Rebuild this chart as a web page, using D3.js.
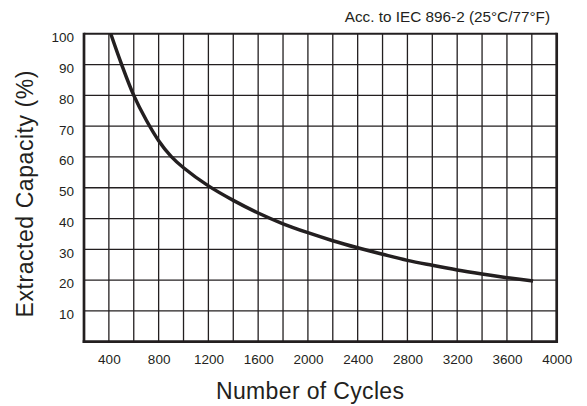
<!DOCTYPE html>
<html>
<head>
<meta charset="utf-8">
<script src="https://cdn.jsdelivr.net/npm/d3@7"></script>
<style>
  html, body { margin: 0; padding: 0; background: #fff; }
  svg { display: block; }
  text { font-family: "Liberation Sans", Arial, Helvetica, sans-serif; fill: #231f20; }
</style>
</head>
<body>
<svg id="chart" width="587" height="406"></svg>
<script>
// Cycle life: extracted capacity vs. number of cycles
const cycles   = [415, 500, 600, 700, 800, 900, 1000, 1200, 1400, 1600, 1800, 2000, 2200, 2400, 2600, 2800, 3000, 3200, 3400, 3600, 3810];
const capacity = [100, 90.3, 80, 72, 65.3, 60.2, 56.5, 50.6, 45.9, 41.8, 38.3, 35.4, 32.8, 30.5, 28.4, 26.4, 24.8, 23.3, 22, 20.8, 19.7];

const xTickLabels = [400, 800, 1200, 1600, 2000, 2400, 2800, 3200, 3600, 4000];
const yTickLabels = [10, 20, 30, 40, 50, 60, 70, 80, 90, 100];

const xDomain = [200, 4000];
const yDomain = [0, 100];
const xGridStep = 200;
const yGridStep = 10;

const ink = "#231f20";
const svg = d3.select("#chart");

const plot = { left: 84, right: 556.7, top: 33.8, bottom: 341.7 };
const x = d3.scaleLinear().domain(xDomain).range([plot.left, plot.right]);
const y = d3.scaleLinear().domain(yDomain).range([plot.bottom, plot.top]);

// Grid lines
const xGrid = d3.range(xDomain[0] + xGridStep, xDomain[1], xGridStep);
const yGrid = d3.range(yDomain[0] + yGridStep, yDomain[1], yGridStep);

const grid = svg.append("g").attr("stroke", ink).attr("stroke-width", 1.3);
grid.selectAll("line.v").data(xGrid).join("line")
  .attr("class", "v")
  .attr("x1", d => x(d)).attr("x2", d => x(d))
  .attr("y1", plot.top).attr("y2", plot.bottom);
grid.selectAll("line.h").data(yGrid).join("line")
  .attr("class", "h")
  .attr("y1", d => y(d)).attr("y2", d => y(d))
  .attr("x1", plot.left).attr("x2", plot.right);

// Frame
svg.append("line").attr("x1", plot.left).attr("x2", plot.right).attr("y1", plot.top).attr("y2", plot.top)
  .attr("stroke", ink).attr("stroke-width", 2);
svg.append("line").attr("x1", plot.right).attr("x2", plot.right).attr("y1", plot.top - 1).attr("y2", plot.bottom + 1.3)
  .attr("stroke", ink).attr("stroke-width", 2.7);
svg.append("line").attr("x1", plot.left).attr("x2", plot.left).attr("y1", plot.top - 1).attr("y2", plot.bottom + 1.3)
  .attr("stroke", ink).attr("stroke-width", 2.7);
svg.append("line").attr("x1", plot.left - 1.3).attr("x2", plot.right + 1.3).attr("y1", plot.bottom).attr("y2", plot.bottom)
  .attr("stroke", ink).attr("stroke-width", 2.7);

// Axis labels (no axis line or tick marks)
const xAxis = svg.append("g")
  .attr("transform", `translate(0,${plot.bottom})`)
  .call(d3.axisBottom(x).tickValues(xTickLabels).tickSize(0).tickPadding(12.6).tickFormat(d3.format("d")));
xAxis.select(".domain").remove();
xAxis.selectAll("text")
  .style("font-family", "'Liberation Sans', Arial, sans-serif")
  .attr("font-size", 13.5).attr("fill", ink);

const yAxis = svg.append("g")
  .attr("transform", `translate(${plot.left},0)`)
  .call(d3.axisLeft(y).tickValues(yTickLabels).tickSize(0).tickPadding(10).tickFormat(d3.format("d")));
yAxis.select(".domain").remove();
yAxis.selectAll("text")
  .style("font-family", "'Liberation Sans', Arial, sans-serif")
  .attr("font-size", 13.5).attr("fill", ink)
  .attr("dy", "0.58em");

// Curve
const line = d3.line()
  .x((d, i) => x(cycles[i]))
  .y(d => y(d))
  .curve(d3.curveCatmullRom.alpha(0.5));
svg.append("path")
  .datum(capacity)
  .attr("d", line)
  .attr("fill", "none")
  .attr("stroke", ink)
  .attr("stroke-width", 3.5);

// Titles
svg.append("text")
  .attr("x", 310).attr("y", 399)
  .attr("text-anchor", "middle")
  .attr("font-size", 23)
  .attr("textLength", 188)
  .attr("lengthAdjust", "spacing")
  .text("Number of Cycles");

svg.append("text")
  .attr("transform", "translate(33,194) rotate(-90)")
  .attr("text-anchor", "middle")
  .attr("font-size", 23)
  .attr("textLength", 247)
  .attr("lengthAdjust", "spacing")
  .text("Extracted Capacity (%)");

svg.append("text")
  .attr("x", 550).attr("y", 22)
  .attr("text-anchor", "end")
  .attr("font-size", 15.3)
  .text("Acc. to IEC 896-2 (25°C/77°F)");
</script>
</body>
</html>
